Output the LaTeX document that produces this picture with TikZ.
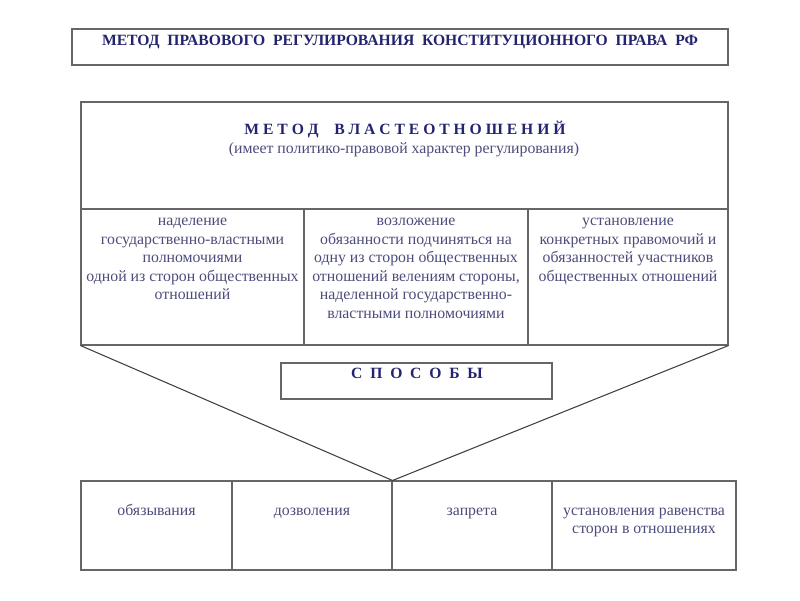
\documentclass[tikz,border=0pt]{standalone}
\usepackage{fontspec}
\setmainfont{Liberation Serif}
\usetikzlibrary{fit,calc}
\definecolor{navy}{HTML}{23236E}
\definecolor{ink}{HTML}{4C4C7C}
\definecolor{rule}{HTML}{666666}
\tikzset{box/.style={draw=rule,line width=0.6pt,inner sep=0pt},head/.style={font=\bfseries\fontsize{8.9}{10}\selectfont,text=navy,inner sep=0pt,anchor=base},txt/.style={font=\fontsize{9}{10.5}\selectfont,text=ink,align=center,inner sep=0pt,anchor=north,execute at begin node=\strut},link/.style={draw=black!75,line width=0.6pt}}
\begin{document}
\begin{tikzpicture}[x=0.02cm,y=-0.02cm]
\useasboundingbox[fill=white] (0,0) rectangle (800,600);
\node[box,fit={(72,29)(728,65)}] (title) {};
\node[head] (titlet) at (400,45.5) {МЕТОД\ \ ПРАВОВОГО\ \ РЕГУЛИРОВАНИЯ\ \ КОНСТИТУЦИОННОГО\ \ ПРАВА\ \ РФ};
\node[box,fit={(81,102)(728,209)}] (vlast) {};
\node[head] (vlastt) at (405,134.5) {М Е Т О Д \ \ \ В Л А С Т Е О Т Н О Ш Е Н И Й};
\node[txt] (vlasts) at (404,140) {(имеет политико-правовой характер регулирования)};
\foreach \a/\b/\n/\t in {81/304/c1/{наделение\\государственно-властными\\полномочиями\\одной из сторон общественных\\отношений},304/528/c2/{возложение\\обязанности подчиняться на\\одну из сторон общественных\\отношений велениям стороны,\\наделенной государственно-\\властными полномочиями},528/728/c3/{установление\\конкретных правомочий и\\обязанностей участников\\общественных отношений}}{\node[box,fit={(\a,209)(\b,345)}] (\n) {};\node[txt] (\n t) at ($(\n.north)+(0,9.5)$) {\t};}
\node[box,fit={(281,363)(552,399)}] (sposob) {};
\node[head] (sposobt) at (417,378.5) {С\ \ П\ \ О\ \ С\ \ О\ \ Б\ \ Ы};
\foreach \a/\b/\o/\n/\t in {81/232/21.5/s1/обязывания,232/392/21.5/s2/дозволения,392/552/21.5/s3/запрета,552/736/27/s4/{установления\ равенства\\сторон\ в отношениях}}{\node[box,fit={(\a,481)(\b,570)}] (\n) {};\node[txt] (\n t) at ($(\n.north)+(0,\o)$) {\t};}
\draw[link] (c1.south west) -- (s2.north east) -- (c3.south east);
\end{tikzpicture}
\end{document}
